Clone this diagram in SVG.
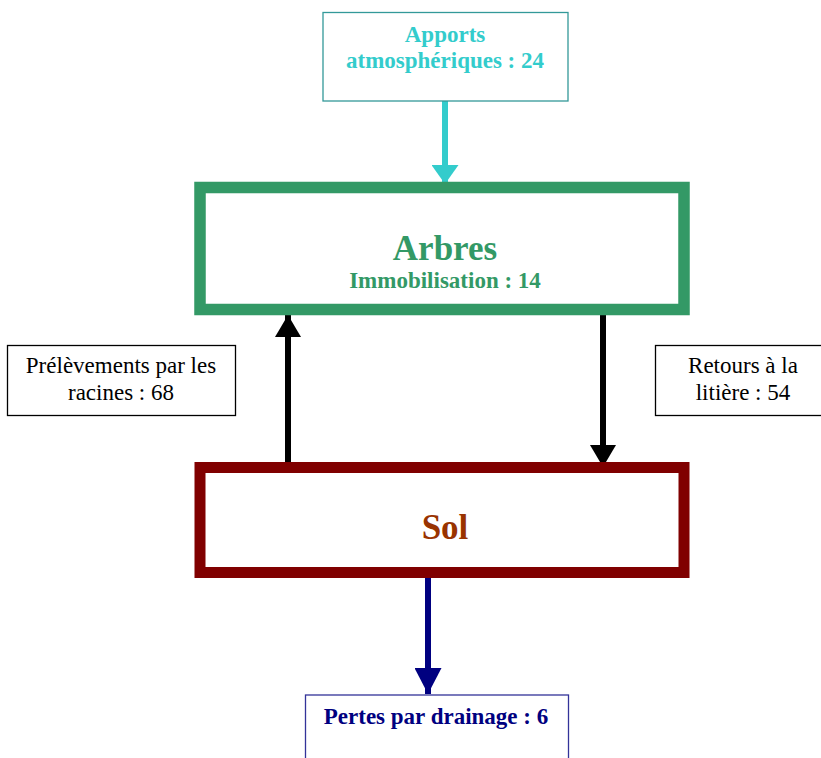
<svg xmlns="http://www.w3.org/2000/svg" width="821" height="758" viewBox="0 0 821 758">
<style>
text{font-family:"Liberation Serif","Times New Roman",serif;font-size:23px;text-anchor:middle}
.b{font-weight:bold}
.thin{fill:#fff;stroke-width:1.3}
</style>
<defs>
<marker id="hTeal" markerUnits="userSpaceOnUse" markerWidth="19" markerHeight="27" refX="19" refY="13.5" orient="auto" viewBox="0 0 19 27"><path d="M0,0 L19,13.5 L0,27 Z" fill="#33cccc"/></marker>
<marker id="hBlack" markerUnits="userSpaceOnUse" markerWidth="22" markerHeight="26" refX="22" refY="13" orient="auto" viewBox="0 0 22 26"><path d="M0,0 L22,13 L0,26 Z" fill="#000"/></marker>
<marker id="hBlue" markerUnits="userSpaceOnUse" markerWidth="26" markerHeight="27" refX="26" refY="13.5" orient="auto" viewBox="0 0 26 27"><path d="M0,0 L26,13.5 L0,27 Z" fill="#000080"/></marker>
</defs>
<rect width="821" height="758" fill="#fff"/>
<g id="connectors">
<line x1="445" y1="101" x2="445" y2="184" stroke="#33cccc" stroke-width="6" marker-end="url(#hTeal)"/>
<line x1="288" y1="462" x2="288" y2="315" stroke="#000" stroke-width="6" marker-end="url(#hBlack)"/>
<line x1="603" y1="310" x2="603" y2="467" stroke="#000" stroke-width="6" marker-end="url(#hBlack)"/>
<line x1="428" y1="578" x2="428" y2="694" stroke="#000080" stroke-width="6" marker-end="url(#hBlue)"/>
</g>
<g id="apports">
<rect class="thin" x="323" y="12.5" width="245" height="88.5" stroke="#339999"/>
<text class="b" x="445" y="42" fill="#33cccc">Apports</text>
<text class="b" x="445" y="68" fill="#33cccc">atmosphériques : 24</text>
</g>
<g id="arbres">
<rect x="200" y="187.5" width="484" height="122" fill="#fff" stroke="#339966" stroke-width="11.5"/>
<text class="b" x="445" y="260" fill="#339966" style="font-size:35px">Arbres</text>
<text class="b" x="445" y="288" fill="#339966">Immobilisation : 14</text>
</g>
<g id="prelevements">
<rect class="thin" x="7.5" y="345.5" width="228" height="70" stroke="#000"/>
<text x="121" y="373">Prélèvements par les</text>
<text x="121" y="400">racines : 68</text>
</g>
<g id="retours">
<rect class="thin" x="655.5" y="345.5" width="170" height="70" stroke="#000"/>
<text x="743" y="373">Retours à la</text>
<text x="743" y="400">litière : 54</text>
</g>
<g id="sol">
<rect x="200" y="467.5" width="484" height="105" fill="#fff" stroke="#800000" stroke-width="11"/>
<text class="b" x="445" y="539" fill="#993300" style="font-size:35px">Sol</text>
</g>
<g id="pertes">
<rect class="thin" x="305.5" y="695" width="263" height="80" stroke="#333399"/>
<text class="b" x="436" y="724" fill="#000080">Pertes par drainage : 6</text>
</g>
</svg>
